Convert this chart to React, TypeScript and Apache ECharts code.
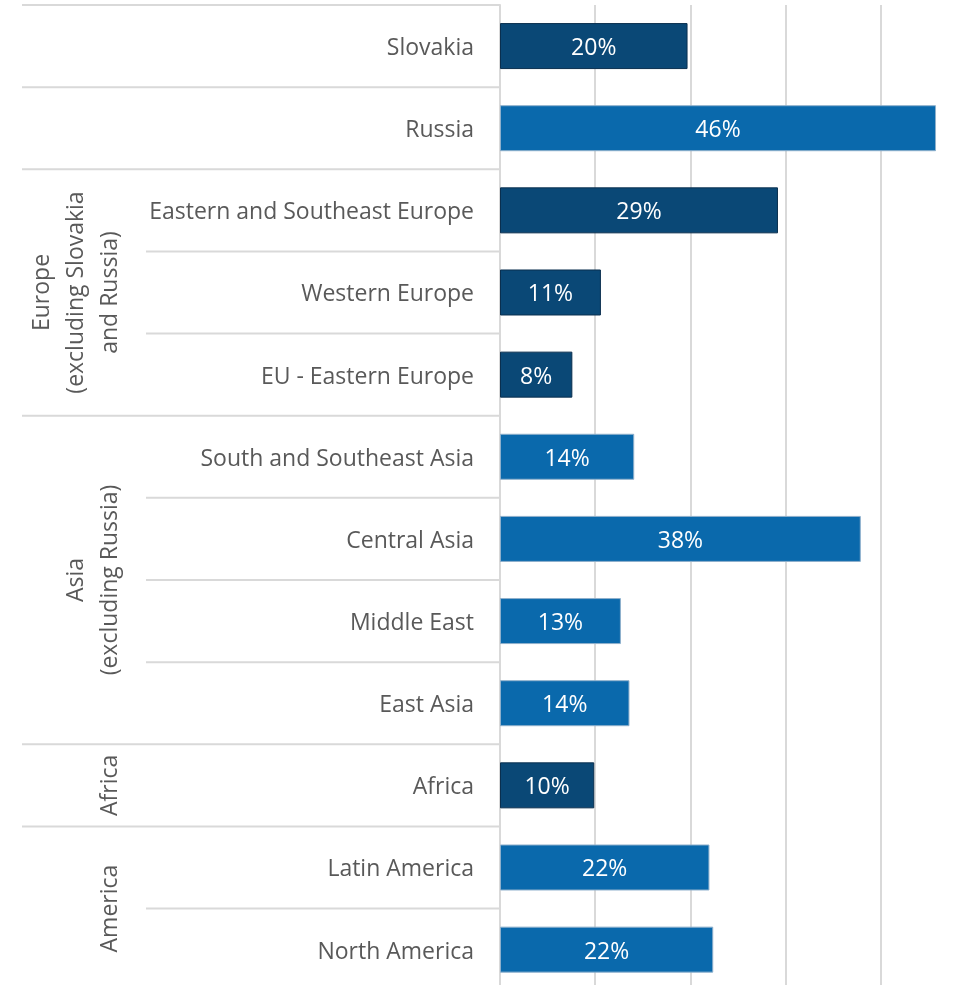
import React, { useEffect, useRef } from 'react';
import * as echarts from 'echarts';

const categories = [
  'Slovakia',
  'Russia',
  'Eastern and Southeast Europe',
  'Western Europe',
  'EU - Eastern Europe',
  'South and Southeast Asia',
  'Central Asia',
  'Middle East',
  'East Asia',
  'Africa',
  'Latin America',
  'North America',
];
const shares = [19.7, 45.8, 29.2, 10.6, 7.6, 14.1, 37.9, 12.7, 13.6, 9.9, 22.0, 22.4];
const darkCategories = ['Slovakia', 'Eastern and Southeast Europe', 'Western Europe', 'EU - Eastern Europe', 'Africa'];
const groupLabels = ['', '', 'Europe\n(excluding Slovakia\nand Russia)', 'Asia\n(excluding Russia)', 'Africa', 'America'];
const groupSizes = [1, 1, 3, 4, 1, 2];

const FONT = '"Open Sans", "Noto Sans", sans-serif';
const GRID_COLOR = '#d9d9d9';
const TEXT_COLOR = '#595959';

export default function App() {
  const ref = useRef<HTMLDivElement>(null);
  useEffect(() => {
    const chart = echarts.init(ref.current!, null, { renderer: 'svg' });
    chart.setOption({
      animation: false,
      grid: { left: 500, right: 4, top: 5, bottom: 4.3 },
      xAxis: {
        type: 'value',
        min: 0,
        max: 50,
        interval: 10,
        axisLabel: { show: false },
        axisLine: { show: false },
        axisTick: { show: false },
        splitLine: { lineStyle: { color: GRID_COLOR, width: 2 } },
      },
      yAxis: {
        type: 'category',
        inverse: true,
        data: categories,
        axisLine: { lineStyle: { color: GRID_COLOR, width: 2 } },
        axisTick: { show: false },
        axisLabel: { color: TEXT_COLOR, fontSize: 23, fontFamily: FONT, margin: 26 },
      },
      series: [
        {
          type: 'bar',
          barWidth: 46,
          data: categories.map((c, i) => ({
            value: shares[i],
            itemStyle: {
              color: darkCategories.includes(c) ? '#0a4876' : '#0a69ac',
              borderColor: darkCategories.includes(c) ? '#0a2f4f' : '#8fb0cc',
              borderWidth: 1,
            },
          })),
          label: {
            show: true,
            position: 'inside',
            color: '#ffffff',
            fontSize: 23,
            fontFamily: FONT,
            formatter: (p: any) => Math.round(p.value) + '%',
          },
        },
      ],
    });

    const yc = (i: number) => chart.convertToPixel({ yAxisIndex: 0 }, i) as number;
    const band = yc(1) - yc(0);
    const rowTop = (i: number) => yc(0) + (i - 0.5) * band;
    const axisX = chart.convertToPixel({ xAxisIndex: 0 }, 0) as number;

    const groupStarts: number[] = [];
    let acc = 0;
    groupSizes.forEach((s) => {
      groupStarts.push(acc);
      acc += s;
    });
    const groupBounds = new Set([...groupStarts, acc]);

    const elements: any[] = [];
    for (let i = 0; i <= categories.length; i++) {
      const y = rowTop(i);
      elements.push({
        type: 'line',
        silent: true,
        shape: { x1: groupBounds.has(i) ? 22 : 146, y1: y, x2: axisX, y2: y },
        style: { stroke: GRID_COLOR, lineWidth: 2 },
      });
    }
    groupLabels.forEach((label, g) => {
      if (!label) return;
      const start = groupStarts[g];
      const end = start + groupSizes[g];
      const cy = (rowTop(start) + rowTop(end)) / 2;
      elements.push({
        type: 'text',
        silent: true,
        x: 125,
        y: cy,
        rotation: Math.PI / 2,
        style: {
          text: label,
          align: 'center',
          verticalAlign: 'bottom',
          fontSize: 23,
          lineHeight: 34,
          fontFamily: FONT,
          fill: TEXT_COLOR,
        },
      });
    });
    chart.setOption({ graphic: { elements } });

    return () => chart.dispose();
  }, []);
  return <div ref={ref} style={{ position: 'fixed', left: 0, top: 0, width: 980, height: 995 }} />;
}
